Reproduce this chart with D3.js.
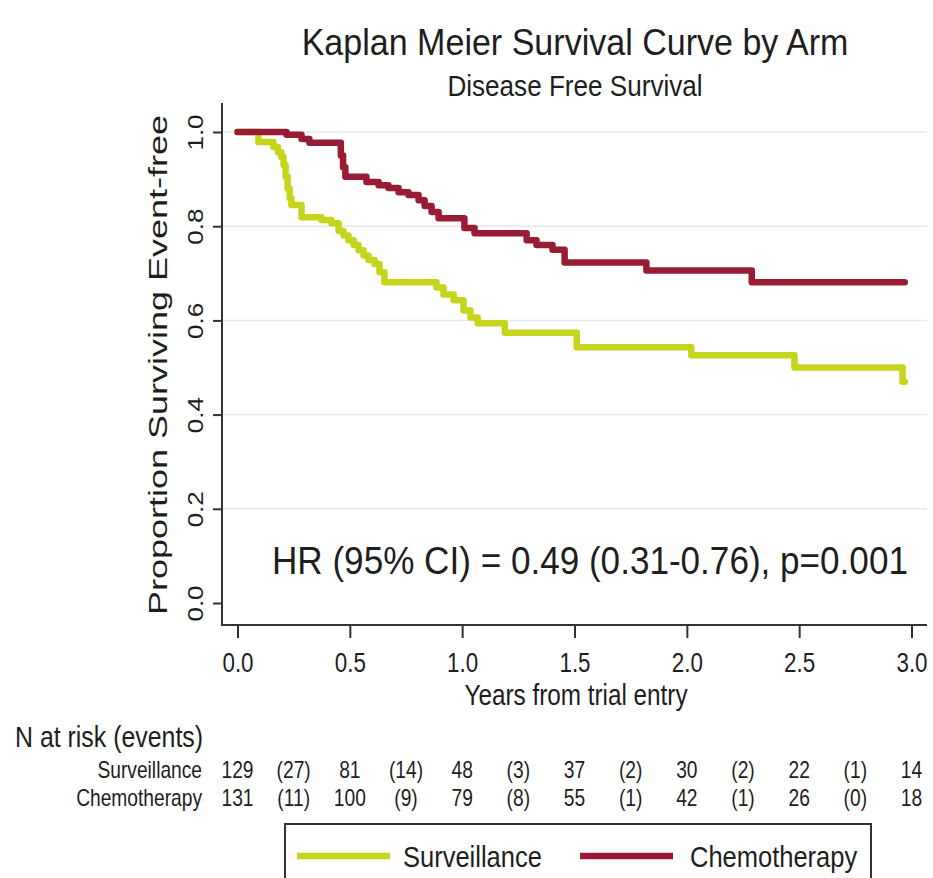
<!DOCTYPE html>
<html lang="en">
<head>
    <meta charset="UTF-8">
    <title>Kaplan Meier Survival Curve by Arm</title>
    <script src="https://d3js.org/d3.v7.min.js"></script>
    <style>
        body{ margin: 0; background: #fff; }
        text{
            font-family: 'Liberation Sans', Arial, sans-serif;
            fill: #1e1e1e;
        }
    </style>
</head>
<body>
    <svg width="933" height="878"></svg>
    <script>
        // values
        const yTicks = [0, 0.2, 0.4, 0.6, 0.8, 1.0];
        const xTicks = [0, 0.5, 1, 1.5, 2, 2.5, 3];
        const groups = ["Surveillance", "Chemotherapy"];

        // surveillance arm steps (time in years, proportion event-free)
        const survTimes = [0, 0.093, 0.16, 0.18, 0.195, 0.205, 0.214, 0.223, 0.232, 0.24, 0.285, 0.374, 0.418, 0.45, 0.472,
            0.494, 0.517, 0.539, 0.561, 0.583, 0.61, 0.632, 0.654, 0.886, 0.917, 0.962, 1.006, 1.037, 1.069, 1.19,
            1.51, 2.02, 2.479, 2.96, 2.97];
        const survProb = [1, 0.979, 0.968, 0.957, 0.947, 0.93, 0.905, 0.88, 0.86, 0.845, 0.819, 0.813, 0.806, 0.79, 0.78,
            0.77, 0.76, 0.749, 0.738, 0.728, 0.72, 0.702, 0.681, 0.67, 0.655, 0.643, 0.621, 0.606, 0.594, 0.574,
            0.543, 0.526, 0.5, 0.47, 0.47];

        // chemotherapy arm steps
        const chemoTimes = [0, 0.218, 0.285, 0.32, 0.46, 0.47, 0.48, 0.574, 0.628, 0.672, 0.717, 0.761, 0.806, 0.833, 0.864,
            0.895, 1.01, 1.055, 1.287, 1.331, 1.402, 1.456, 1.82, 2.289, 2.97];
        const chemoProb = [1, 0.994, 0.985, 0.977, 0.95, 0.925, 0.905, 0.894, 0.887, 0.881, 0.872, 0.866, 0.855, 0.843, 0.83,
            0.817, 0.796, 0.785, 0.77, 0.76, 0.75, 0.723, 0.706, 0.681, 0.681];

        // numbers at risk (at each x tick) and events (between ticks)
        const survAtRisk = [129, 81, 48, 37, 30, 22, 14];
        const survEvents = [27, 14, 3, 2, 2, 1];
        const chemoAtRisk = [131, 100, 79, 55, 42, 26, 18];
        const chemoEvents = [11, 9, 8, 1, 1, 0];

        const hrText = "HR (95% CI) = 0.49 (0.31-0.76), p=0.001";

        const colors = {Surveillance: "#c6d51c", Chemotherapy: "#981c35"};

        const left = 222, bottom = 625, right = 927;
        const scaleX = d3.scaleLinear().domain([0, 3]).range([237.5, 911.5]);
        const scaleY = d3.scaleLinear().domain([0, 1]).range([603, 132]);

        const svg = d3.select("svg");

        // text is narrow in the original, so squeeze it horizontally
        function label(str, x, y, size, sx, anchor){
            return svg.append("text")
                .attr("transform", `translate(${[x, y]}) scale(${sx},1)`)
                .attr("font-size", size)
                .attr("text-anchor", anchor)
                .text(str);
        }

        //gridlines
        svg.append("g").selectAll("line")
            .data(yTicks.filter(d => d > 0))
            .join("line")
            .attr("x1", left).attr("x2", right)
            .attr("y1", d => scaleY(d)).attr("y2", d => scaleY(d))
            .attr("stroke", "#e9e9e9").attr("stroke-width", 1.5);

        //axes
        const axisX = d3.axisBottom(scaleX).tickValues(xTicks).tickFormat(d3.format(".1f"))
            .tickSize(13).tickSizeOuter(0);
        const xG = svg.append("g").attr("transform", `translate(${[0, bottom]})`).call(axisX);
        xG.select(".domain").attr("d", `M${left},0H${right}`);
        xG.selectAll(".tick text")
            .attr("y", null).attr("dy", null)
            .attr("font-size", 28)
            .attr("transform", "translate(0,47) scale(0.8,1)");

        const axisY = d3.axisLeft(scaleY).tickValues(yTicks).tickFormat(d3.format(".1f"))
            .tickSize(9).tickSizeOuter(0);
        const yG = svg.append("g").attr("transform", `translate(${[left, 0]})`).call(axisY);
        yG.select(".domain").attr("d", `M0,103V${bottom + 1}`);
        yG.selectAll(".tick text")
            .attr("x", null).attr("dy", null)
            .attr("text-anchor", "middle")
            .attr("font-size", 26)
            .attr("transform", "translate(-19,0) rotate(-90) scale(1,0.82)");

        [xG, yG].forEach(g => {
            g.selectAll(".domain, .tick line").attr("stroke", "#333").attr("stroke-width", 2);
            g.selectAll("text").attr("fill", "#1e1e1e").attr("font-family", null);
        });

        // survival curves
        const line = d3.line()
            .x(d => scaleX(d[0]))
            .y(d => scaleY(d[1]))
            .curve(d3.curveStepAfter);

        const curves = [
            {name: "Surveillance", pts: d3.zip(survTimes, survProb)},
            {name: "Chemotherapy", pts: d3.zip(chemoTimes, chemoProb)}
        ];
        svg.append("g").selectAll("path")
            .data(curves)
            .join("path")
            .attr("d", d => line(d.pts))
            .attr("fill", "none")
            .attr("stroke", d => colors[d.name])
            .attr("stroke-width", 6.5)
            .attr("stroke-linejoin", "round")
            .attr("stroke-linecap", "round");

        //titles
        label("Kaplan Meier Survival Curve by Arm", 575, 55, 37, 0.92, "middle");
        label("Disease Free Survival", 575, 96, 30, 0.87, "middle");
        label("Years from trial entry", 576, 705, 30, 0.81, "middle");
        label(hrText, 272, 574, 39, 0.9, "start");
        svg.append("text")
            .attr("transform", "translate(167,365) rotate(-90) scale(1,0.74)")
            .attr("font-size", 36)
            .attr("text-anchor", "middle")
            .text("Proportion Surviving Event-free");

        // number at risk table
        label("N at risk (events)", 15, 747, 30, 0.83, "start");
        const rows = [
            {name: "Surveillance", n: survAtRisk, ev: survEvents, y: 778},
            {name: "Chemotherapy", n: chemoAtRisk, ev: chemoEvents, y: 806}
        ];
        rows.forEach(r => {
            label(r.name, 202, r.y, 24, 0.8, "end");
            r.n.forEach((v, i) => label(v, scaleX(xTicks[i]), r.y, 24, 0.8, "middle"));
            r.ev.forEach((v, i) => label(`(${v})`, scaleX((xTicks[i] + xTicks[i + 1]) / 2), r.y, 24, 0.8, "middle"));
        });

        // legend
        svg.append("rect")
            .attr("x", 285).attr("y", 824).attr("width", 586).attr("height", 80)
            .attr("fill", "#fff").attr("stroke", "#333").attr("stroke-width", 2);
        const legendX = [{line: 297, text: 403}, {line: 580, text: 690}];
        groups.forEach((g, i) => {
            svg.append("line")
                .attr("x1", legendX[i].line).attr("x2", legendX[i].line + 93)
                .attr("y1", 856).attr("y2", 856)
                .attr("stroke", colors[g]).attr("stroke-width", 6.5);
            label(g, legendX[i].text, 867, 30, 0.85, "start");
        });
    </script>
</body>
</html>
